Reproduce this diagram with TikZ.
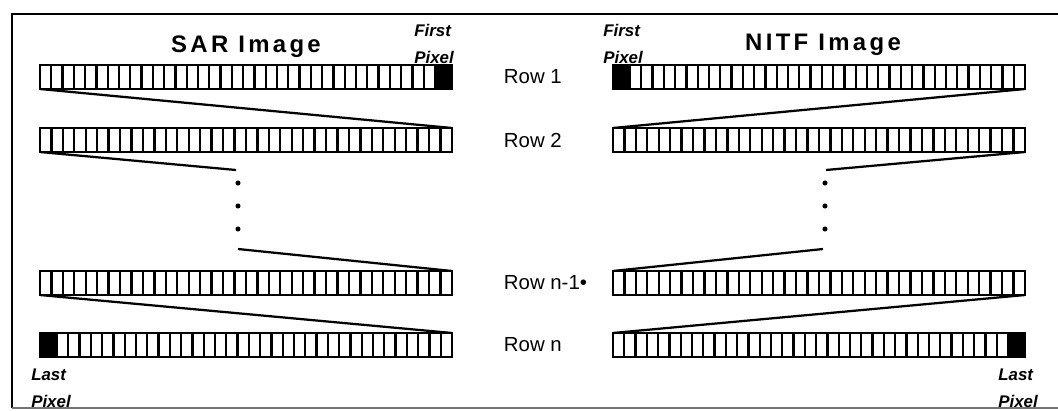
\documentclass[tikz,border=0pt]{standalone}
\usepackage{fontspec}
\setmainfont{Liberation Sans}
\usetikzlibrary{calc}
\tikzset{
	pixbar/.style={draw, line width=2pt, minimum width=10.3cm, minimum height=0.6cm, inner sep=0pt, outer sep=0pt},
	cellline/.style={line width=1.6pt},
	link/.style={line width=1.6pt},
	title/.style={font=\fontsize{17}{20}\selectfont\bfseries\addfontfeature{LetterSpace=14}},
	rowlabel/.style={anchor=west, font=\fontsize{14.5}{17}\selectfont},
	pixlabel/.style={align=left, inner sep=0pt, font=\fontsize{12}{19}\selectfont\bfseries\itshape},
}
% dividers of one row: node, offset, count, cell width
\newcommand{\pixcells}[4]{%
	\foreach \i in {1,...,#3}
		\draw[cellline] ($(#1.south west)+(#2+\i*#4,0)$) -- ++(0,24);
}
\begin{document}
\begin{tikzpicture}[x=0.025cm, y=0.025cm]
	\useasboundingbox (0,0) rectangle (1058,410);
	\draw[line width=1.6pt] (1058,396) -- (12,396) -- (12,2);
	\draw[line width=0.8pt, black!55] (12,2) -- (1058,2);

	% titles
	\node (sart) at (246,363) [title] {SAR Image};
	\node (nitft) at (823,365) [title] {NITF Image};

	% SAR rows
	\node (L1) at (246,333) [pixbar] {};
	\node (L2) at (246,270) [pixbar] {};
	\node (Ln1) at (246,127) [pixbar] {};
	\node (Ln) at (246,65) [pixbar] {};
	\fill ($(L1.south east)+(-17,0)$) rectangle (L1.north east);
	\fill (Ln.south west) rectangle ($(Ln.north west)+(17,0)$);
	\pixcells{L1}{0}{35}{11.286}
	\pixcells{L2}{0}{35}{11.444}
	\pixcells{Ln1}{0}{35}{11.444}
	\pixcells{Ln}{5.714}{35}{11.286}

	% NITF rows
	\node (R1) at (819,333) [pixbar] {};
	\node (R2) at (819,270) [pixbar] {};
	\node (Rn1) at (819,127) [pixbar] {};
	\node (Rn) at (819,65) [pixbar] {};
	\fill (R1.south west) rectangle ($(R1.north west)+(17,0)$);
	\fill ($(Rn.south east)+(-17,0)$) rectangle (Rn.north east);
	\pixcells{R1}{5.714}{35}{11.286}
	\pixcells{R2}{0}{35}{11.444}
	\pixcells{Rn1}{0}{35}{11.444}
	\pixcells{Rn}{0}{35}{11.286}

	% row labels
	\node (row1) at (499,333) [rowlabel] {Row 1};
	\node (row2) at (499,270) [rowlabel] {Row 2};
	\node (rown1) at (499,127) [rowlabel] {Row n-1•};
	\node (rown) at (499,65) [rowlabel] {Row n};

	% first and last pixel
	\node (firstL) at (434,366) [pixlabel] {First\\Pixel};
	\node (firstR) at (623,366) [pixlabel] {First\\Pixel};
	\node (lastL) at (51,22) [pixlabel] {Last\\Pixel};
	\node (lastR) at (1018,22) [pixlabel] {Last\\Pixel};

	% scan order
	\coordinate (Lgap1) at (236,240);
	\coordinate (Lgap2) at (238,161);
	\coordinate (Rgap1) at (826,240);
	\coordinate (Rgap2) at (823,161);
	\draw[link] (L1.south west) -- (L2.north east);
	\draw[link] (L2.south west) -- (Lgap1);
	\draw[link] (Lgap2) -- (Ln1.north east);
	\draw[link] (Ln1.south west) -- (Ln.north east);
	\draw[link] (R1.south east) -- (R2.north west);
	\draw[link] (R2.south east) -- (Rgap1);
	\draw[link] (Rgap2) -- (Rn1.north west);
	\draw[link] (Rn1.south east) -- (Rn.north west);
	\foreach \y in {227,204,181} {
		\fill (238,\y) circle (1.8pt);
		\fill (825,\y) circle (1.8pt);
	}
\end{tikzpicture}
\end{document}
